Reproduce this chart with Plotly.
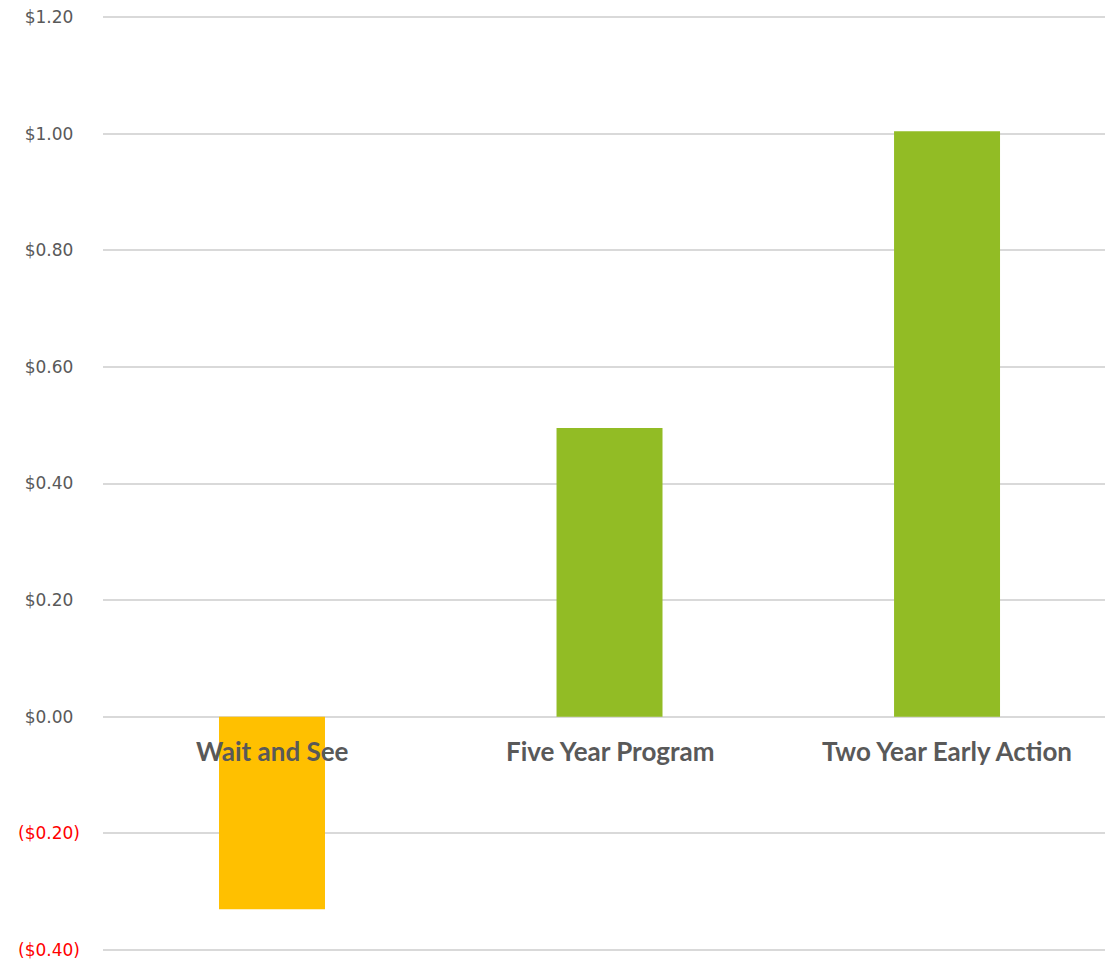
import plotly.graph_objects as go

categories = ["Wait and See", "Five Year Program", "Two Year Early Action"]
values = [-0.33, 0.495, 1.004]
bar_colors = ["#FFC000", "#92BC25", "#92BC25"]
tick_values = [-0.4, -0.2, 0.0, 0.2, 0.4, 0.6, 0.8, 1.0, 1.2]


def fmt(v):
    if v < 0:
        return '<span style="color:#FF0000">($%.2f)</span>' % abs(v)
    return '$%.2f<span style="color:rgba(0,0,0,0)">)</span>' % v


tick_text = [fmt(v) for v in tick_values]
xpos = list(range(len(categories)))

fig = go.Figure()
fig.add_trace(go.Bar(
    x=xpos, y=values, marker=dict(color=bar_colors, line=dict(width=0)),
    width=0.314, hoverinfo="skip",
))

for i, c in enumerate(categories):
    fig.add_annotation(
        x=i, y=0, xref="x", yref="y", text="<b>%s</b>" % c, showarrow=False,
        yanchor="middle", yshift=-34,
        font=dict(family="Lato, 'Open Sans', sans-serif", size=26, color="#595959"),
    )

fig.update_layout(
    width=1105, height=963,
    margin=dict(l=103, r=0, t=12, b=8),
    paper_bgcolor="white", plot_bgcolor="white",
    showlegend=False,
    xaxis=dict(range=[-0.5007, 2.468], showticklabels=False, showgrid=False,
               zeroline=False, showline=False),
    yaxis=dict(range=[-0.4086, 1.2086], tickvals=tick_values, ticktext=tick_text,
               showgrid=True, gridcolor="#D9D9D9", gridwidth=2,
               zeroline=True, zerolinecolor="#D9D9D9", zerolinewidth=2,
               showline=False, ticks="", ticklabelstandoff=22,
               tickfont=dict(family="'DejaVu Sans', sans-serif", size=17, color="#595959")),
)

fig.write_html("out.html")
